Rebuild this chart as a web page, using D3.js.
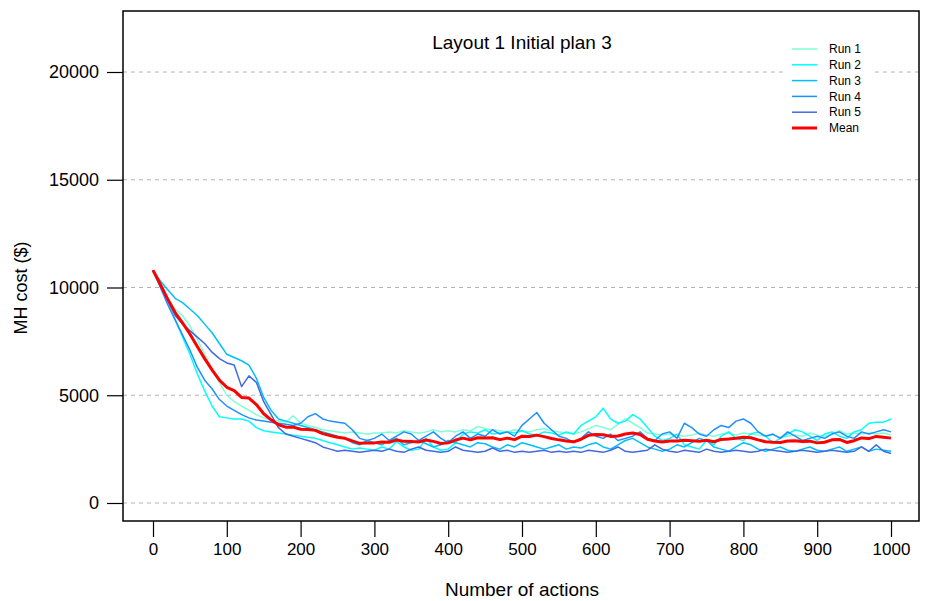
<!DOCTYPE html>
<html>
<head>
<meta charset="utf-8">
<script src="https://cdn.jsdelivr.net/npm/d3@7"></script>
<style>
  body { margin: 0; background: #fff; }
  text { font-family: "Liberation Sans", Arial, sans-serif; fill: #000; }
</style>
</head>
<body>
<div id="container"></div>
<script>
"use strict";

// sample positions (number of actions), one value every 10 actions
const actions = d3.range(0, 1001, 10);

const runNames = ["Run 1", "Run 2", "Run 3", "Run 4", "Run 5"];
const runColors = ["#7FFFD4", "#00FFFF", "#00BFFF", "#1E90FF", "#4169E1"];

// values (MH cost in $)
const run1 = [10800, 10200, 9500, 9000, 8700, 8200, 7600, 6900, 6200, 5600,
    5000, 4700, 4500, 4300, 4100, 3950, 3850, 3800, 3750, 4050,
    3700, 3600, 3500, 3400, 3350, 3300, 3250, 3300, 3250, 3200,
    3250, 3250, 3300, 3250, 3350, 3300, 3250, 3300, 3400, 3300,
    3350, 3300, 3400, 3350, 3550, 3450, 3400, 3350, 3300, 3400,
    3350, 3300, 3400, 3450, 3350, 3300, 3250, 3200, 3300, 3450,
    3600, 3500, 3400, 3650, 3900, 3700, 3500, 3250, 3200, 3150,
    3200, 3150, 3100, 3150, 3250, 3150, 3100, 3200, 3250, 3150,
    3250, 3200, 3150, 3100, 3150, 3050, 3100, 3150, 3100, 3250,
    3150, 3100, 3200, 3350, 3200, 3250, 3200, 3250, 3200, 3250, 3150];

const run2 = [10800, 10100, 9300, 8500, 7700, 6900, 6000, 5200, 4500, 4000,
    3950, 3900, 3900, 3800, 3500, 3350, 3300, 3250, 3200, 3150,
    3100, 3050, 3000, 2900, 2800, 2700, 2600, 2500, 2550, 2500,
    2450, 2600, 2500, 2850, 2600, 2450, 2500, 3000, 2600, 2450,
    2500, 2800, 3200, 3300, 3250, 3400, 3200, 3250, 3300, 3250,
    3350, 3200, 3150, 3300, 3250, 3150, 3300, 3200, 3600, 3800,
    4000, 4400, 3900, 3700, 3800, 4100, 3900, 3500, 3100, 2900,
    3000, 3200, 2700, 2600, 2500, 2900, 2700, 3100, 3300, 3000,
    2900, 3200, 3300, 3100, 2800, 3000, 3200, 3400, 3300, 3100,
    2900, 3200, 3300, 3100, 3000, 3300, 3400, 3700, 3750, 3750, 3900];

const run3 = [10800, 10300, 9900, 9500, 9300, 9000, 8700, 8300, 7900, 7400,
    6900, 6750, 6600, 6400, 5800, 4900, 4300, 3900, 3800, 3700,
    3600, 3500, 3400, 3300, 3200, 3100, 3000, 2800, 2700, 2900,
    2800, 2700, 2900, 3000, 2700, 2800, 2900, 2750, 2600, 2700,
    2900, 2800, 2700, 2600, 2800, 2750, 2600, 2500, 2700, 2600,
    2800, 2700, 2600, 2500, 2600, 2700, 2500, 2600, 2550, 2700,
    2800, 2600, 2500, 2700, 2900, 3000, 2800, 2600, 2500, 2400,
    2500, 2700, 2600, 2800, 3000, 2900, 2600, 2500, 2400, 2600,
    2800, 2700, 2500, 2400, 2500, 2600, 2450, 2400, 2500, 2600,
    2450, 2400, 2500, 2600, 2400, 2500, 2600, 2400, 2500, 2450, 2400];

const run4 = [10800, 10000, 9200, 8500, 7800, 7100, 6300, 5700, 5300, 4800,
    4500, 4300, 4100, 3950, 3850, 3800, 3750, 3700, 3650, 3600,
    3700, 4000, 4150, 3900, 3800, 3750, 3700, 3400, 3000, 2900,
    3000, 3200, 2900, 3100, 3300, 3200, 2900, 3100, 3300, 3000,
    2800, 3100, 3300, 3000, 3200, 3100, 3400, 3200, 3300, 3100,
    3600, 3900, 4200, 3700, 3400, 3100, 3000, 2800, 3000, 3300,
    3100, 3000, 3200, 2900, 3000, 3100, 3300, 3000, 2900, 3200,
    3300, 3000, 3700, 3500, 3200, 3100, 3400, 3600, 3500, 3800,
    3900, 3700, 3300, 3100, 3200, 3000, 3300, 3100, 2900, 3000,
    3100, 3000, 3200, 3300, 3100, 3000, 3300, 3200, 3300, 3400, 3300];

const run5 = [10800, 10100, 9400, 8700, 8300, 8000, 7700, 7400, 7000, 6700,
    6500, 6400, 5400, 5900, 5600, 4700, 4100, 3500, 3200, 3100,
    3000, 2900, 2800, 2600, 2500, 2400, 2450, 2400, 2350, 2400,
    2450, 2400, 2500, 2400, 2350, 2500, 2600, 2450, 2400, 2350,
    2400, 2600, 2450, 2400, 2350, 2400, 2550, 2400, 2450, 2350,
    2400, 2350, 2400, 2450, 2350, 2400, 2350, 2400, 2350, 2450,
    2400, 2350, 2450, 2600, 2400, 2350, 2400, 2450, 2700, 2500,
    2400, 2350, 2450, 2400, 2350, 2500, 2400, 2350, 2400, 2450,
    2400, 2350, 2400, 2500, 2450, 2400, 2350, 2400, 2450, 2400,
    2350, 2400, 2450, 2400, 2350, 2400, 2600, 2400, 2700, 2400, 2300];

const runs = [run1, run2, run3, run4, run5];

// mean of the five runs at every sample
const meanRun = actions.map((a, i) => d3.mean(runs, (r) => r[i]));

const xTicks = d3.range(0, 1001, 100);
const yTicks = [0, 5000, 10000, 15000, 20000];

function drawChart() {
    const width = 928, height = 601;
    // plot box in pixels
    const box = { left: 123, right: 919, top: 11, bottom: 521 };

    const svg = d3.select("#container")
        .append("svg")
        .attr("width", width)
        .attr("height", height);

    const x = d3.scaleLinear().domain([0, 1000]).range([153, 891]);
    const y = d3.scaleLinear().domain([0, 20000]).range([503, 72]);

    // dashed horizontal grid
    svg.append("g")
        .selectAll("line")
        .data(yTicks)
        .join("line")
        .attr("x1", box.left)
        .attr("x2", box.right)
        .attr("y1", (d) => y(d))
        .attr("y2", (d) => y(d))
        .attr("stroke", "#b4b4b4")
        .attr("stroke-width", 1)
        .attr("stroke-dasharray", "4,4");

    // x axis
    const xAxis = svg.append("g")
        .attr("transform", `translate(0, ${box.bottom})`)
        .call(d3.axisBottom(x).tickValues(xTicks).tickSize(16).tickPadding(6).tickFormat(d3.format("d")));
    xAxis.select(".domain").remove();
    xAxis.selectAll(".tick line").attr("stroke", "#000").attr("stroke-width", 1.2);
    xAxis.selectAll(".tick text")
        .style("font-size", "17px")
        .attr("font-family", null);

    // y axis
    const yAxis = svg.append("g")
        .attr("transform", `translate(${box.left}, 0)`)
        .call(d3.axisLeft(y).tickValues(yTicks).tickSize(16).tickPadding(8).tickFormat(d3.format("d")));
    yAxis.select(".domain").remove();
    yAxis.selectAll(".tick line").attr("stroke", "#000").attr("stroke-width", 1.2);
    yAxis.selectAll(".tick text")
        .style("font-size", "18px")
        .attr("font-family", null);

    // the runs
    const line = d3.line()
        .x((d, i) => x(actions[i]))
        .y((d) => y(d));

    svg.append("g")
        .selectAll("path")
        .data(runs)
        .join("path")
        .attr("d", line)
        .attr("fill", "none")
        .attr("stroke", (d, i) => runColors[i])
        .attr("stroke-width", 1.5)
        .attr("stroke-linejoin", "round");

    svg.append("path")
        .attr("d", line(meanRun))
        .attr("fill", "none")
        .attr("stroke", "#FF0000")
        .attr("stroke-width", 3)
        .attr("stroke-linejoin", "round");

    // box
    svg.append("rect")
        .attr("x", box.left)
        .attr("y", box.top)
        .attr("width", box.right - box.left)
        .attr("height", box.bottom - box.top)
        .attr("fill", "none")
        .attr("stroke", "#000")
        .attr("stroke-width", 1.5);

    // title
    svg.append("text")
        .attr("x", 522)
        .attr("y", 49)
        .attr("text-anchor", "middle")
        .style("font-size", "19px")
        .text("Layout 1 Initial plan 3");

    // axis titles
    svg.append("text")
        .attr("x", 522)
        .attr("y", 596)
        .attr("text-anchor", "middle")
        .style("font-size", "19px")
        .text("Number of actions");

    svg.append("text")
        .attr("transform", "translate(27, 288) rotate(-90)")
        .attr("text-anchor", "middle")
        .style("font-size", "18px")
        .text("MH cost ($)");

    // legend
    const legendNames = runNames.concat(["Mean"]);
    const legendColors = runColors.concat(["#FF0000"]);
    const legend = svg.append("g");
    legend.append("rect")
        .attr("x", 785)
        .attr("y", 40)
        .attr("width", 87)
        .attr("height", 98)
        .attr("fill", "#fff");
    const rows = legend.selectAll("g")
        .data(legendNames)
        .join("g")
        .attr("transform", (d, i) => `translate(0, ${49 + i * 15.8})`);
    rows.append("line")
        .attr("x1", 792)
        .attr("x2", 817)
        .attr("stroke", (d, i) => legendColors[i])
        .attr("stroke-width", (d, i) => (i === 5 ? 3 : 1.5));
    rows.append("text")
        .attr("x", 829)
        .attr("dy", "0.35em")
        .style("font-size", "12px")
        .text((d) => d);
}

drawChart();
</script>
</body>
</html>
